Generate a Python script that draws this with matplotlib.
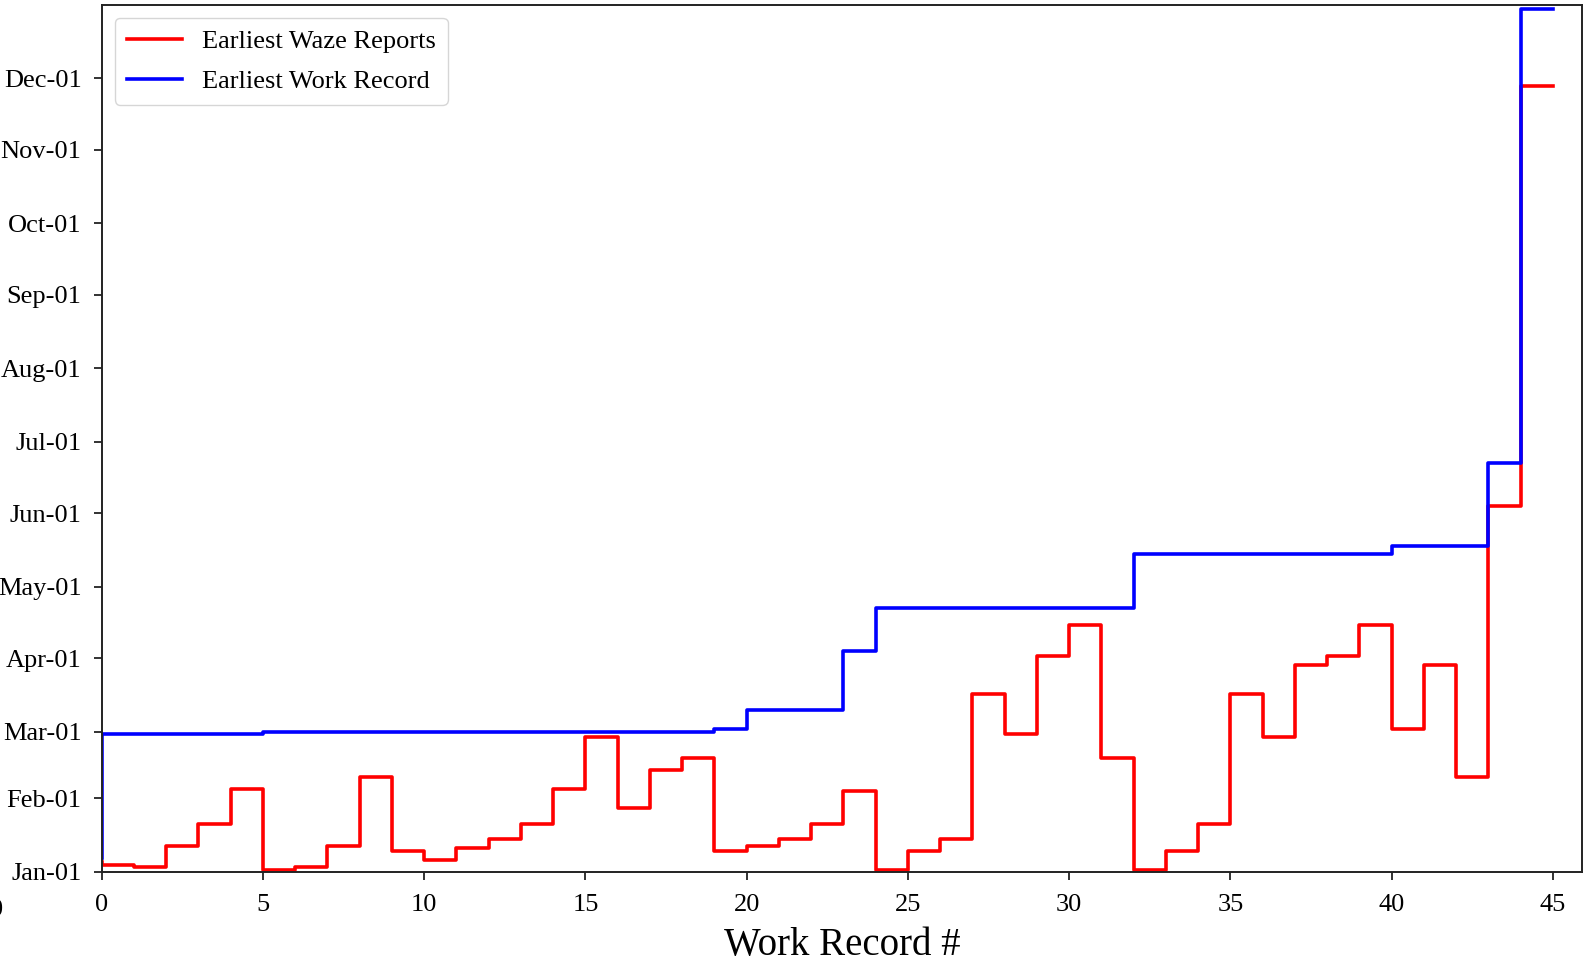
import matplotlib
matplotlib.use("Agg")
import matplotlib.pyplot as plt
import matplotlib.dates as mdates
import numpy as np

plt.rcParams['font.family'] = ['Liberation Serif', 'DejaVu Serif']

# Work record index (first point is the starting edge of the step curve)
record_ids = list(range(46))

waze_dates = [
    "2019-01-05", "2019-01-04", "2019-01-03", "2019-01-12", "2019-01-21",
    "2019-02-05", "2019-01-02", "2019-01-03", "2019-01-12", "2019-02-10",
    "2019-01-10", "2019-01-06", "2019-01-11", "2019-01-15", "2019-01-21",
    "2019-02-05", "2019-02-27", "2019-01-28", "2019-02-13", "2019-02-18",
    "2019-01-10", "2019-01-12", "2019-01-15", "2019-01-21", "2019-02-04",
    "2019-01-02", "2019-01-10", "2019-01-15", "2019-03-17", "2019-02-28",
    "2019-04-02", "2019-04-15", "2019-02-18", "2019-01-02", "2019-01-10",
    "2019-01-21", "2019-03-17", "2019-02-27", "2019-03-29", "2019-04-02",
    "2019-04-15", "2019-03-02", "2019-03-29", "2019-02-10", "2019-06-04",
    "2019-11-28",
]

work_dates = [
    "2019-01-07", "2019-02-28", "2019-02-28", "2019-02-28", "2019-02-28",
    "2019-02-28", "2019-03-01", "2019-03-01", "2019-03-01", "2019-03-01",
    "2019-03-01", "2019-03-01", "2019-03-01", "2019-03-01", "2019-03-01",
    "2019-03-01", "2019-03-01", "2019-03-01", "2019-03-01", "2019-03-01",
    "2019-03-02", "2019-03-10", "2019-03-10", "2019-03-10", "2019-04-04",
    "2019-04-22", "2019-04-22", "2019-04-22", "2019-04-22", "2019-04-22",
    "2019-04-22", "2019-04-22", "2019-04-22", "2019-05-15", "2019-05-15",
    "2019-05-15", "2019-05-15", "2019-05-15", "2019-05-15", "2019-05-15",
    "2019-05-15", "2019-05-18", "2019-05-18", "2019-05-18", "2019-06-22",
    "2019-12-30",
]

x = np.array(record_ids)
waze = np.array(waze_dates, dtype="datetime64[D]")
work = np.array(work_dates, dtype="datetime64[D]")

fig = plt.figure(figsize=(15.84, 9.72), dpi=100)
ax = fig.add_axes([0.0642, 0.1029, 0.9345, 0.892])

ax.step(x, waze, where="pre", color="red", lw=2.6, label="Earliest Waze Reports")
ax.step(x, work, where="pre", color="blue", lw=2.6, label="Earliest Work Record")

ax.set_xlim(0, 45.9)
y0 = mdates.date2num(np.datetime64("2019-01-01"))
ax.set_ylim(y0, y0 + 364.9)

ax.yaxis.set_major_locator(mdates.MonthLocator())
ax.yaxis.set_major_formatter(mdates.DateFormatter("%b-%d"))
ax.set_xticks([0, 5, 10, 15, 20, 25, 30, 35, 40, 45])

ax.tick_params(axis="both", labelsize=19, length=5.5, width=1.3, color="#222222")
ax.tick_params(axis="y", pad=9)
ax.tick_params(axis="x", pad=10)
for s in ax.spines.values():
    s.set_linewidth(1.4)
    s.set_color("#222222")

ax.set_xlabel("Work Record #", fontsize=28, labelpad=8)

leg = ax.legend(loc="upper left", fontsize=19, handlelength=2.1,
                handletextpad=0.75, framealpha=0.8, borderpad=0.45,
                labelspacing=0.6)

fig.text(-0.0065, 0.064, "0", fontsize=19, ha="left", va="center")

fig.savefig("out.png", dpi=100)
